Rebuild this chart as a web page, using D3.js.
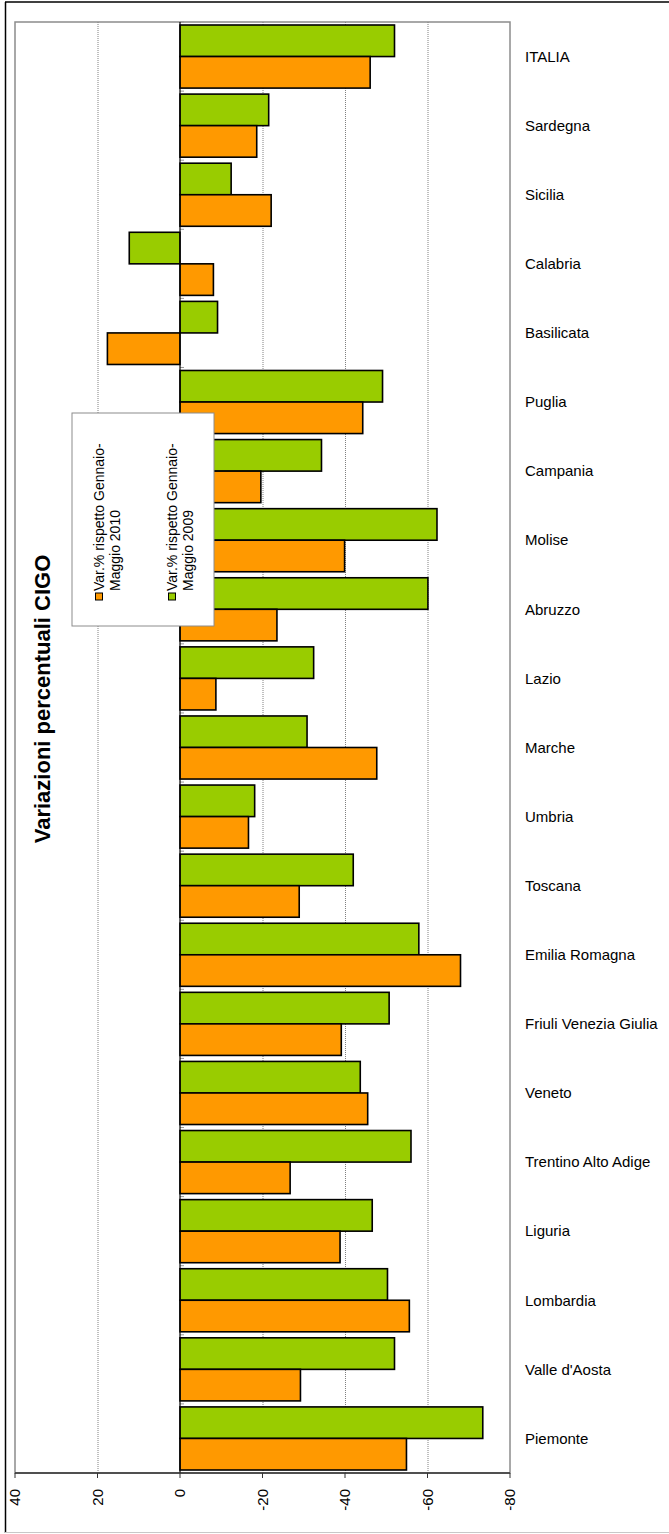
<!DOCTYPE html>
<html>
<head>
<meta charset="utf-8">
<script src="https://cdn.jsdelivr.net/npm/d3@7"></script>
<style>
  html, body { margin: 0; padding: 0; background: #fff; }
  svg { display: block; }
  text { font-family: "Liberation Sans", Arial, sans-serif; }
</style>
</head>
<body>
<svg id="chart" width="669" height="1534"></svg>
<script>
const categories = ["ITALIA","Sardegna","Sicilia","Calabria","Basilicata","Puglia","Campania","Molise","Abruzzo","Lazio","Marche","Umbria","Toscana","Emilia Romagna","Friuli Venezia Giulia","Veneto","Trentino Alto Adige","Liguria","Lombardia","Valle d'Aosta","Piemonte"];
const var2009 = [-52.0,-21.5,-12.4,12.3,-9.1,-49.1,-34.3,-62.3,-60.1,-32.4,-30.8,-18.1,-42.0,-57.9,-50.7,-43.7,-56.0,-46.6,-50.3,-52.0,-73.4];
const var2010 = [-46.1,-18.6,-22.1,-8.1,17.6,-44.3,-19.6,-39.9,-23.5,-8.7,-47.7,-16.6,-28.9,-68.0,-39.1,-45.5,-26.7,-38.8,-55.6,-29.2,-54.9];
const tickValues = [40,20,0,-20,-40,-60,-80];
const gridValues = [20,-20,-40,-60];
const seriesNames = ["Var.% rispetto Gennaio-|Maggio 2010","Var.% rispetto Gennaio-|Maggio 2009"];
const title = "Variazioni percentuali CIGO";

(function(){
const svg = d3.select("#chart");
const pLeft = 15, pRight = 510, pTop = 22, pBottom = 1473;
const x = d3.scaleLinear().domain([40,-80]).range([pLeft,pRight]);
const y = d3.scaleBand().domain(categories).range([pTop,pBottom]).paddingInner(0.087).paddingOuter(0.0435);
const sub = d3.scaleBand().domain(["g","o"]).range([0,y.bandwidth()]);

// outer frame
svg.append("line").attr("x1",5.5).attr("x2",5.5).attr("y1",2).attr("y2",1533).attr("stroke","#000").attr("stroke-width",1.5);
svg.append("line").attr("x1",5).attr("x2",669).attr("y1",2).attr("y2",2).attr("stroke","#000").attr("stroke-width",1.5);
svg.append("line").attr("x1",5).attr("x2",669).attr("y1",1532.5).attr("y2",1532.5).attr("stroke","#c8c8c8").attr("stroke-width",1);

// plot border
svg.append("rect").attr("x",pLeft).attr("y",pTop).attr("width",pRight-pLeft).attr("height",pBottom-pTop)
  .attr("fill","none").attr("stroke","#8c8c8c").attr("stroke-width",1.5);

// gridlines
svg.selectAll("line.grid").data(gridValues).join("line").attr("class","grid")
  .attr("x1",d=>x(d)+0.5).attr("x2",d=>x(d)+0.5).attr("y1",pTop).attr("y2",pBottom)
  .attr("stroke","#808080").attr("stroke-width",1).attr("stroke-dasharray","1,1");

// category tick marks at zero
const bounds = d3.range(categories.length+1).map(i => pTop + i*y.step());
svg.selectAll("line.ctick").data(bounds).join("line").attr("class","ctick")
  .attr("x1",x(0)).attr("x2",x(0)+4).attr("y1",d=>d).attr("y2",d=>d)
  .attr("stroke","#999").attr("stroke-width",1);

// bars
const g = svg.append("g");
g.selectAll("rect.g").data(categories).join("rect").attr("class","g")
  .attr("x",(d,i)=>Math.min(x(0),x(var2009[i])))
  .attr("width",(d,i)=>Math.abs(x(var2009[i])-x(0)))
  .attr("y",d=>y(d)+sub("g")).attr("height",sub.bandwidth())
  .attr("fill","#99cc00").attr("stroke","#000").attr("stroke-width",1.6);
g.selectAll("rect.o").data(categories).join("rect").attr("class","o")
  .attr("x",(d,i)=>Math.min(x(0),x(var2010[i])))
  .attr("width",(d,i)=>Math.abs(x(var2010[i])-x(0)))
  .attr("y",d=>y(d)+sub("o")).attr("height",sub.bandwidth())
  .attr("fill","#ff9900").attr("stroke","#000").attr("stroke-width",1.6);

// zero axis line
svg.append("line").attr("x1",x(0)).attr("x2",x(0)).attr("y1",pTop).attr("y2",pBottom).attr("stroke","#000").attr("stroke-width",1.2);

// bottom axis
svg.append("line").attr("x1",pLeft).attr("x2",pRight).attr("y1",pBottom).attr("y2",pBottom).attr("stroke","#333").attr("stroke-width",1.5);
svg.selectAll("line.xtick").data(tickValues).join("line").attr("class","xtick")
  .attr("x1",d=>x(d)).attr("x2",d=>x(d)).attr("y1",pBottom).attr("y2",pBottom+5)
  .attr("stroke","#333").attr("stroke-width",1);
svg.selectAll("text.xlab").data(tickValues).join("text").attr("class","xlab")
  .attr("transform",d=>`translate(${x(d)},${pBottom+16}) rotate(-90)`)
  .attr("text-anchor","end").attr("dy","0.35em").attr("font-size",15).attr("fill","#000")
  .text(d=>d);

// category labels
svg.selectAll("text.clab").data(categories).join("text").attr("class","clab")
  .attr("x",525).attr("y",d=>y(d)+y.bandwidth()/2).attr("dy","0.35em")
  .attr("font-size",15).attr("fill","#000").text(d=>d);

// title
svg.append("text").attr("transform","translate(42,699) rotate(-90)")
  .attr("text-anchor","middle").attr("dy","0.35em").attr("font-size",22).attr("font-weight","bold")
  .text(title);

// legend
const lg = svg.append("g");
lg.append("rect").attr("x",72).attr("y",413).attr("width",142).attr("height",213)
  .attr("fill","#fff").attr("stroke","#8c8c8c").attr("stroke-width",1);
const legColors = ["#ff9900","#99cc00"];
const legX = [99,172];
seriesNames.forEach((name,i)=>{
  const lines = name.split("|");
  lg.append("rect").attr("x",legX[i]-3.5).attr("y",593).attr("width",7).attr("height",7)
    .attr("fill",legColors[i]).attr("stroke","#000").attr("stroke-width",1);
  lg.append("text").attr("transform",`translate(${legX[i]},591) rotate(-90)`)
    .attr("dy","0.35em").attr("font-size",14).text(lines[0]);
  lg.append("text").attr("transform",`translate(${legX[i]+16},591) rotate(-90)`)
    .attr("dy","0.35em").attr("font-size",14).text(lines[1]);
});
})();
</script>
</body>
</html>
